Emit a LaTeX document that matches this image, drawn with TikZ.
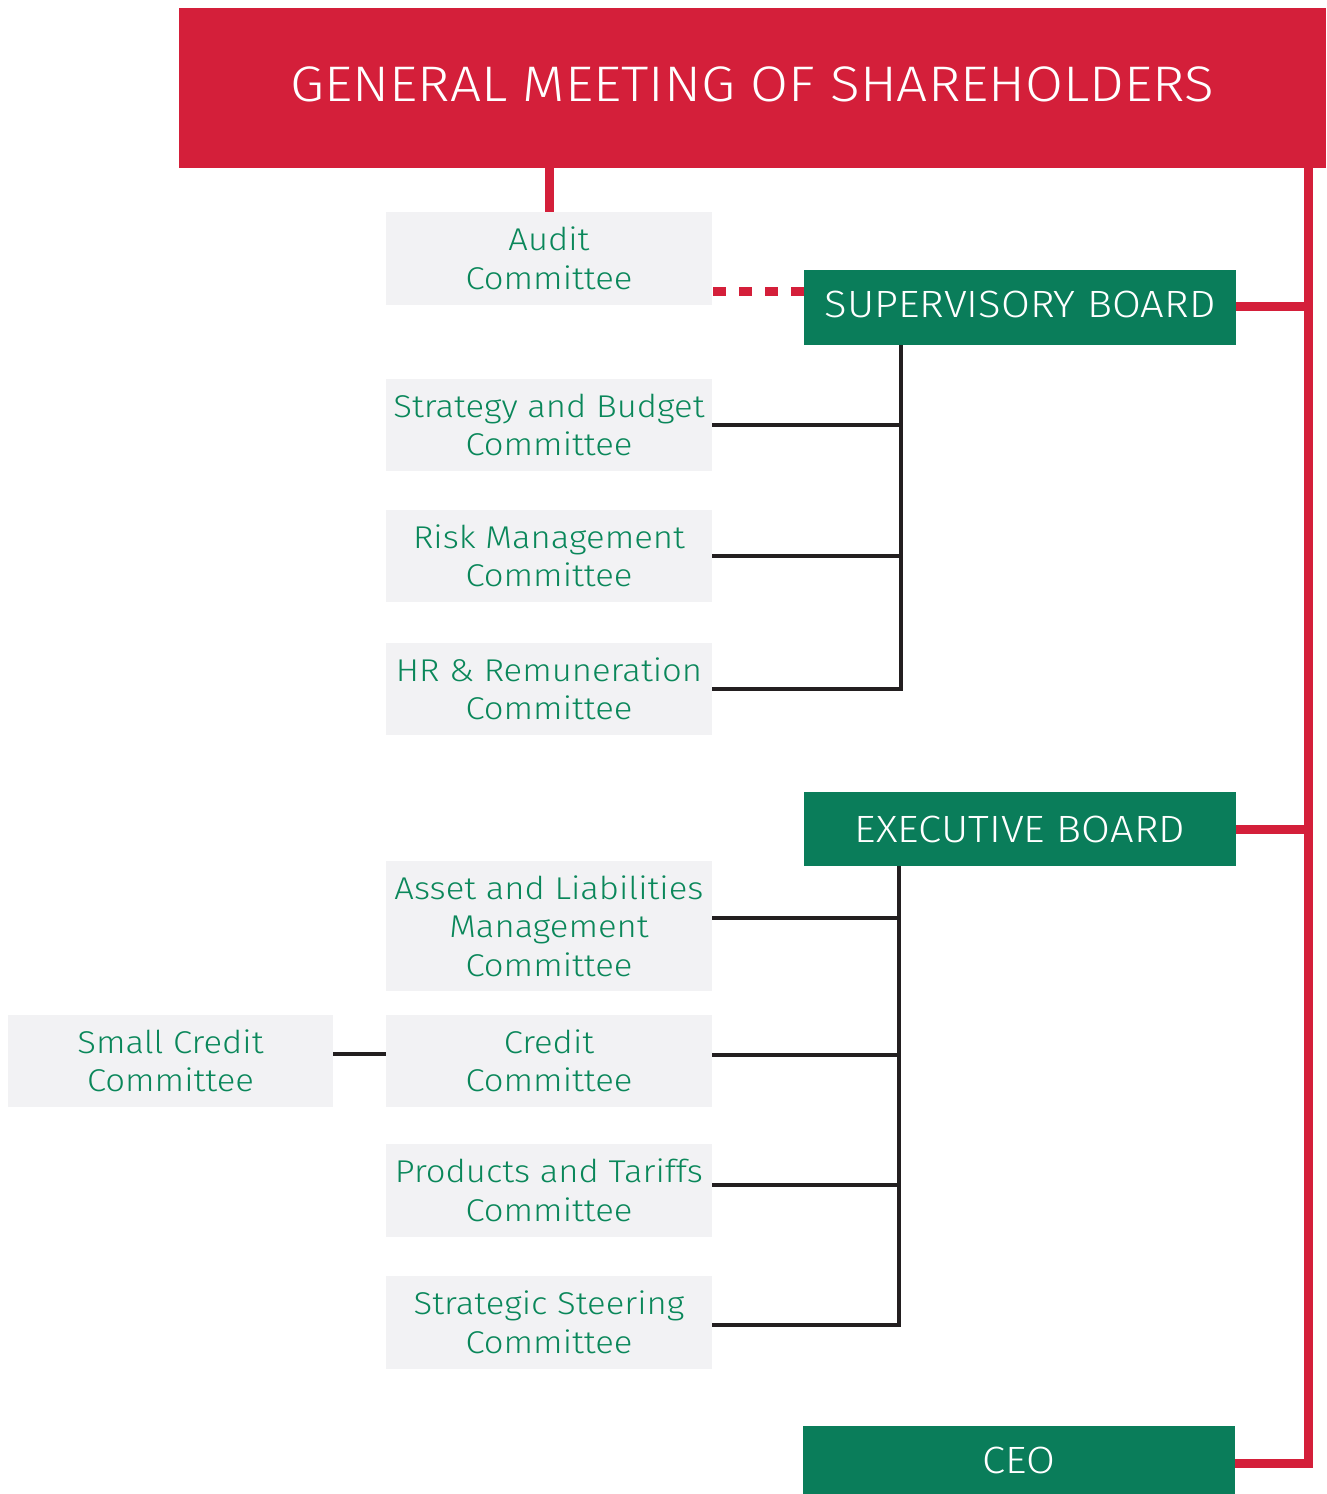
\documentclass[tikz,border=0pt]{standalone}
\usepackage{fontspec}
\setmainfont{Fira Sans Light}[FakeStretch=1.1]
\usetikzlibrary{positioning}
\usetikzlibrary{calc}
\definecolor{gmsred}{HTML}{D41F3A}
\definecolor{boardgreen}{HTML}{0A7D5A}
\definecolor{commgreen}{HTML}{0A875A}
\definecolor{commgray}{HTML}{F2F2F4}
\definecolor{linkblack}{HTML}{231F20}
\tikzset{comm/.style={fill=commgray,text=commgreen,minimum width=326pt,minimum height=93pt,align=center,inner sep=0pt,font=\fontsize{31.5}{38.5}\selectfont}}
\tikzset{board/.style={fill=boardgreen,text=white,minimum width=432pt,minimum height=75pt,inner sep=0pt,font=\fontsize{38}{44}\selectfont}}
\tikzset{redlink/.style={draw=gmsred,line width=9pt}}
\tikzset{blacklink/.style={draw=linkblack,line width=4pt}}

\begin{document}
\begin{tikzpicture}[x=1pt,y=-1pt]
\useasboundingbox (0,0) rectangle (1326,1494);

\node[fill=gmsred,text=white,minimum width=1147pt,minimum height=160pt,inner sep=0pt,text height=36pt,text depth=10pt,font=\fontsize{50}{60}\selectfont] (gms) at (752.5,88) {GENERAL MEETING OF SHAREHOLDERS};

\node[comm] (audit) at (549,258.5) {Audit\\Committee};
\node[board,text height=27pt,text depth=8pt] (sb) at (1020,307.5) {SUPERVISORY BOARD};
\node[comm,minimum height=92pt] (strat) at (549,425) {Strategy and Budget\\Committee};
\node[comm,minimum height=92pt] (risk) at (549,556) {Risk Management\\Committee};
\node[comm,minimum height=92pt] (hr) at (549,689) {HR \& Remuneration\\Committee};

\node[board,minimum height=74pt] (eb) at (1020,829) {EXECUTIVE BOARD};
\node[comm,minimum height=130pt] (alm) at (549,926) {Asset and Liabilities\\Management\\Committee};
\node[comm,minimum height=92pt] (credit) at (549,1061) {Credit\\Committee};
\node[comm,minimum width=325pt,minimum height=92pt] (small) at (170.5,1061) {Small Credit\\Committee};
\node[comm] (prod) at (549,1190.5) {Products and Tariffs\\Committee};
\node[comm] (steer) at (549,1322.5) {Strategic Steering\\Committee};
\node[board,minimum height=68pt] (ceo) at (1019,1460) {CEO};

% red links from the meeting
\coordinate (redspine) at (1308.5,168);
\draw[redlink] (audit.north) -- (audit.north |- gms.south);
\draw[redlink,line join=miter] (gms.south -| redspine) -- ([yshift=-3.5pt]ceo.east -| redspine) -- ([yshift=-3.5pt]ceo.east);
\draw[redlink] ([yshift=1.5pt]sb.east) -- ++(77,0);
\draw[redlink] (eb.east) -- ++(77,0);
\draw[redlink,dash pattern=on 13pt off 13pt] ([yshift=16pt]sb.west) -- ([yshift=16pt]sb.west -| audit.east);

% supervisory board committees
\coordinate (sbspine) at (901,0);
\draw[blacklink] (sb.south -| sbspine) -- (hr.east -| sbspine) -- (hr.east);
\draw[blacklink] (strat.east) -- (strat.east -| sbspine);
\draw[blacklink] (risk.east) -- (risk.east -| sbspine);

% executive board committees
\coordinate (ebspine) at (899,0);
\draw[blacklink] (eb.south -| ebspine) -- ([yshift=-2.5pt]steer.east -| ebspine) -- ([yshift=-2.5pt]steer.east);
\draw[blacklink] ([yshift=8pt]alm.east) -- ([yshift=8pt]alm.east -| ebspine);
\draw[blacklink] ([yshift=6pt]credit.east) -- ([yshift=6pt]credit.east -| ebspine);
\draw[blacklink] ([yshift=5.5pt]prod.east) -- ([yshift=5.5pt]prod.east -| ebspine);
\draw[blacklink] ([yshift=7pt]small.east) -- ([yshift=7pt]credit.west);
\end{tikzpicture}
\end{document}
